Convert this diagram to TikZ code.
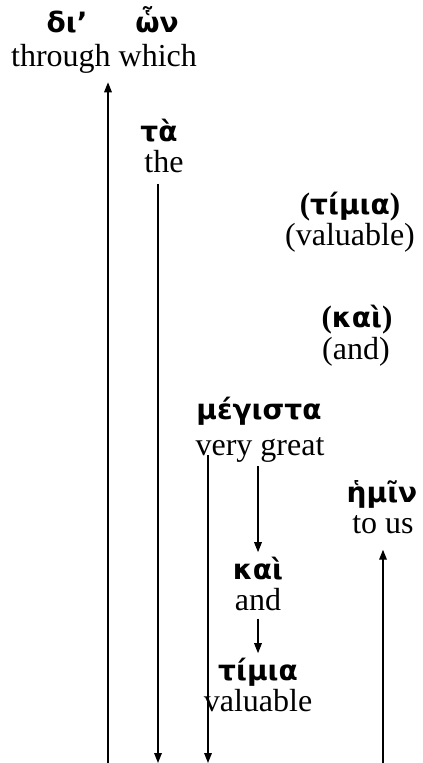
\documentclass[tikz,border=0pt]{standalone}
\usepackage{fontspec}
\setmainfont{Liberation Serif}
\newfontfamily\grk{DejaVu Sans}
\usetikzlibrary{arrows.meta}

\begin{document}
\begin{tikzpicture}[x=0.5pt,y=-0.5pt,
  eng/.style={font=\fontsize{16}{18}\selectfont, inner sep=0pt, anchor=base},
  gr/.style={font=\fontsize{14}{16}\selectfont\grk\bfseries, inner sep=0pt, anchor=base},
  link/.style={line width=0.7pt, -{Triangle[length=5pt,width=3.8pt]}}]
\useasboundingbox (0,0) rectangle (422,763);
\newcommand\bpar[1]{{\fontsize{15.5}{16}\selectfont\rmfamily\bfseries#1}}

% Greek words with their glosses
\node[gr]  (dia)   at (67,33)   {δι’};
\node[gr]  (hon)   at (157,33)  {ὧν};
\node[eng] (thr)   at (104,67)  {through which};
\node[gr]  (ta)    at (159,142) {τὰ};
\node[eng] (the)   at (164,173) {the};
\node[gr]  (tim1)  at (350,215) {\bpar{(}τίμια\bpar{)}};
\node[eng] (val1)  at (350,246) {(valuable)};
\node[gr]  (kai1)  at (357,328) {\bpar{(}καὶ\bpar{)}};
\node[eng] (and1)  at (356,360) {(and)};
\node[gr]  (meg)   at (259,419) {μέγιστα};
\node[eng] (vg)    at (260,455) {very great};
\node[gr]  (hmin)  at (382,502) {ἡμῖν};
\node[eng] (tous)  at (383,533) {to us};
\node[gr]  (kai2)  at (258,579) {καὶ};
\node[eng] (and2)  at (258,610) {and};
\node[gr]  (tim2)  at (258,680) {τίμια};
\node[eng] (val2)  at (258,711) {valuable};

% line ends at the bottom edge
\coordinate (b1) at (108,763);
\coordinate (b2) at (158,763);
\coordinate (b3) at (208,763);
\coordinate (b4) at (258,763);
\coordinate (b6) at (383,763);

% connectors
\draw[link, shorten >=4pt] (b1) -- (b1 |- thr.south);
\draw[link, shorten <=5pt] (b2 |- the.south) -- (b2);
\draw[link] (b3 |- vg.base) -- (b3);
\draw[link, shorten <=2pt, shorten >=2pt] (b4 |- vg.south) -- (kai2.north);
\draw[link, shorten <=4pt, shorten >=2pt] (and2.south) -- (tim2.north);
\draw[link, shorten >=8pt] (b6) -- (tous.south);
\end{tikzpicture}
\end{document}
